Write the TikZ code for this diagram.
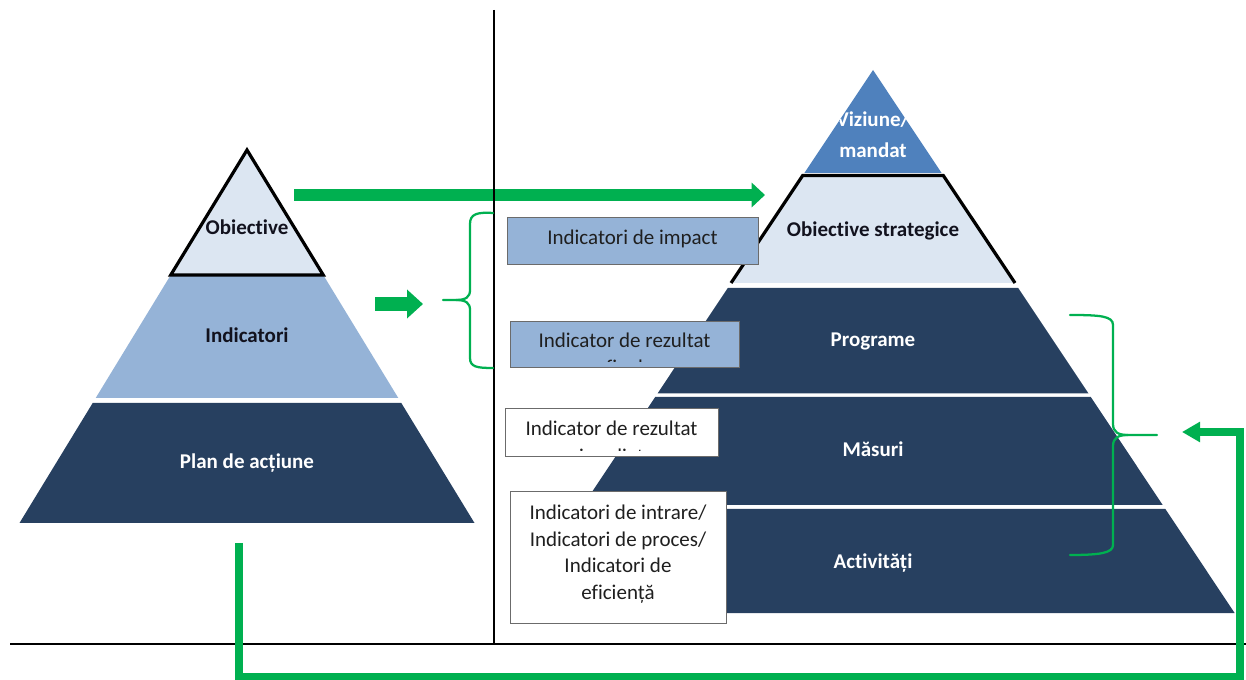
\documentclass[tikz,border=0pt]{standalone}
\usepackage{fontspec}
\setmainfont{Carlito}[Ligatures=NoCommon]
\usetikzlibrary{arrows.meta}
\definecolor{navy}{HTML}{274060}
\definecolor{lightblue}{HTML}{95B3D7}
\definecolor{palest}{HTML}{DCE6F2}
\definecolor{vizblue}{HTML}{4F81BD}
\definecolor{grn}{HTML}{00B050}
\definecolor{txtdark}{HTML}{1F1F1F}
\definecolor{lbldark}{HTML}{12121E}
\definecolor{boxgray}{HTML}{6B6B6B}
\begin{document}
\begin{tikzpicture}[x=0.75pt,y=-0.75pt,
  txt/.style={font=\fontsize{15.75pt}{19.5pt}\selectfont, anchor=base, inner sep=0pt, text=txtdark},
  lbl/.style={font=\fontsize{15.75pt}{19.5pt}\selectfont\bfseries, anchor=base, inner sep=0pt},
  ibox/.style={draw=boxgray, line width=1.1pt, inner sep=0pt, anchor=north west},
  outline/.style={draw=black, line width=2.4pt},
  bracestyle/.style={draw=grn, line width=1.7pt, line cap=round},
  sepline/.style={draw=black, line width=1pt}]
\useasboundingbox (0,0) rectangle (1246,680);

% ---------- left pyramid ----------
\fill[palest] (247,150) -- (323.25,275) -- (170.75,275) -- cycle;
\fill[lightblue] (170.75,275) -- (323.25,275) -- (398.3,398) -- (95.7,398) -- cycle;
\fill[navy] (92.7,403) -- (401.3,403) -- (474.5,523) -- (19.5,523) -- cycle;
\draw[outline] (247,150) -- (323.25,275) -- (170.75,275) -- cycle;
\node[lbl, text=lbldark] (lobj) at (247,235) {Obiective};
\node[lbl, text=lbldark] (lind) at (247,343) {Indicatori};
\node[lbl, text=white] (lplan) at (247,469) {Plan de acțiune};

% ---------- right pyramid ----------
\fill[vizblue] (873,70) -- (941.6,173) -- (804.4,173) -- cycle;
\begin{scope}
  \clip (873,70) -- (941.6,173) -- (804.4,173) -- cycle;
  \node[lbl, text=white] (rviz1) at (873,127) {Viziune/};
  \node[lbl, text=white] (rviz2) at (873,158) {mandat};
\end{scope}
\fill[palest] (802.7,175.5) -- (943.3,175.5) -- (1015,283) -- (731,283) -- cycle;
\draw[outline] (731,283) -- (802.7,175.5) -- (943.3,175.5) -- (1015,283);
\fill[navy] (727.8,288) -- (1018.2,288) -- (1088.5,393.5) -- (657.5,393.5) -- cycle;
\fill[navy] (655.2,397) -- (1090.8,397) -- (1162.7,505) -- (583.3,505) -- cycle;
\fill[navy] (580.6,509) -- (1165.4,509) -- (1234.6,613) -- (511.4,613) -- cycle;
\node[lbl, text=lbldark] (robj) at (873,237) {Obiective strategice};
\node[lbl, text=white] (rprog) at (873,347) {Programe};
\node[lbl, text=white] (rmas) at (873,457) {Măsuri};
\node[lbl, text=white] (ract) at (873,569) {Activități};

% ---------- indicator boxes ----------
\node[ibox, fill=lightblue, minimum width=188.25pt, minimum height=35.25pt] (box1) at (507,217) {};
\node[txt] (box1t) at (632.5,245) {Indicatori de impact};

\node[ibox, fill=lightblue, minimum width=171.75pt, minimum height=34.5pt] (box2) at (510,321) {};
\node[txt] (box2t) at (624.5,348) {Indicator de rezultat};
\begin{scope}
  \clip (512,323) rectangle (737,361.5);
  \node[txt] (box2u) at (624.5,374.5) {final};
\end{scope}

\node[ibox, fill=white, minimum width=159.75pt, minimum height=36pt] (box3) at (505,408) {};
\node[txt] (box3t) at (611.5,436) {Indicator de rezultat};
\begin{scope}
  \clip (507,410) rectangle (716,450.5);
  \node[txt] (box3u) at (611.5,463.5) {imediat};
\end{scope}

\node[ibox, fill=white, minimum width=162pt, minimum height=99pt] (box4) at (510,491) {};
\node[txt] (box4a) at (618,520) {Indicatori de intrare/};
\node[txt] (box4b) at (618,546.5) {Indicatori de proces/};
\node[txt] (box4c) at (618,573) {Indicatori de};
\node[txt] (box4d) at (618,599.5) {eficiență};

% ---------- big green arrow ----------
\coordinate (bigA) at (294,195);
\coordinate (bigB) at (765,195);
\draw[grn, line width=8.5pt, -{Triangle[length=10pt,width=18pt]}] (bigA) -- (bigB);

% ---------- separating black lines ----------
\coordinate (vtop) at (494,10);
\coordinate (vbot) at (494,644);
\coordinate (hleft) at (10,644);
\coordinate (hright) at (1246,644);
\draw[sepline] (vtop) -- (vbot);
\draw[sepline] (hleft) -- (hright);

% ---------- small green arrow ----------
\coordinate (smA) at (375,304);
\coordinate (smB) at (423,304);
\draw[grn, line width=10pt, -{Triangle[length=12pt,width=21pt]}] (smA) -- (smB);

% ---------- braces ----------
\draw[bracestyle] (493,213) .. controls (477,212) and (470,214) .. (470,224) -- (470,290)
  .. controls (470,297) and (466,300) .. (456,300) -- (443,300);
\draw[bracestyle] (456,300) .. controls (466,300) and (470,303) .. (470,310) -- (470,358)
  .. controls (470,367) and (477,368) .. (493,368);

\draw[bracestyle] (1070,315) .. controls (1100,315) and (1113,316) .. (1113,325) -- (1113,424)
  .. controls (1113,432) and (1118,435) .. (1128,435) -- (1157,435);
\draw[bracestyle] (1128,435) .. controls (1118,435) and (1113,438) .. (1113,446) -- (1113,545)
  .. controls (1113,553) and (1100,555) .. (1070,555);

% ---------- return loop arrow ----------
\coordinate (loopA) at (239,543);
\coordinate (loopC) at (1240,676.5);
\coordinate (loopB) at (1182,432);
\draw[grn, line width=6pt, -{Triangle[length=13.5pt,width=14.5pt]}] (loopA) |- (loopC) |- (loopB);
\end{tikzpicture}
\end{document}
